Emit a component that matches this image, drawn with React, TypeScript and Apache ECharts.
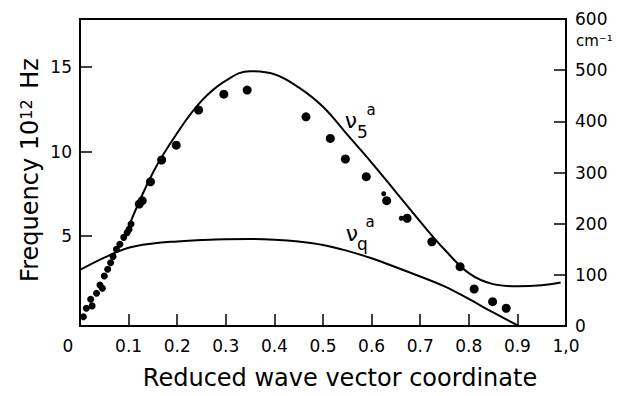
import React, { useEffect, useRef } from "react";
import * as echarts from "echarts";

const FONT = '"DejaVu Sans", "Noto Sans", sans-serif';

// Reduced wave vector coordinate ticks
const xTickValues = [0, 0.1, 0.2, 0.3, 0.4, 0.5, 0.6, 0.7, 0.8, 0.9, 1.0];
const leftTickValues = [5, 10, 15];

// Curve nu5^a (10^12 Hz)
const nu5Q = [0.1, 0.15, 0.2, 0.25, 0.3, 0.35, 0.4, 0.45, 0.5, 0.55, 0.6, 0.65, 0.7, 0.75, 0.8, 0.85, 0.9, 0.95, 0.989];
const nu5V = [5.55, 8.75, 11.1, 13.0, 14.2, 14.76, 14.58, 13.8, 12.65, 11.0, 9.35, 7.6, 5.85, 4.2, 2.8, 2.15, 2.02, 2.08, 2.24];

// Curve nuq^a (10^12 Hz)
const nuqQ = [0, 0.05, 0.1, 0.15, 0.2, 0.25, 0.3, 0.35, 0.4, 0.45, 0.5, 0.55, 0.6, 0.65, 0.7, 0.75, 0.8, 0.85, 0.903];
const nuqV = [2.99, 3.72, 4.3, 4.56, 4.68, 4.76, 4.81, 4.82, 4.78, 4.67, 4.47, 4.12, 3.68, 3.15, 2.6, 2.02, 1.27, 0.47, -0.33];

// Measured points
const dotsQ = [0.007, 0.013, 0.022, 0.025, 0.034, 0.041, 0.046, 0.05, 0.057, 0.063, 0.068, 0.075, 0.082, 0.09, 0.097, 0.101, 0.105, 0.122, 0.128, 0.145, 0.168, 0.198, 0.244, 0.296, 0.344, 0.465, 0.515, 0.546, 0.589, 0.631, 0.673, 0.724, 0.782, 0.811, 0.849, 0.877];
const dotsV = [0.22, 0.72, 1.25, 0.86, 1.61, 2.1, 1.91, 2.63, 3.03, 3.42, 3.78, 4.21, 4.51, 4.92, 5.2, 5.4, 5.71, 6.89, 7.09, 8.21, 9.5, 10.38, 12.46, 13.4, 13.64, 12.06, 10.78, 9.56, 8.51, 7.09, 6.05, 4.66, 3.18, 1.86, 1.11, 0.72];

// small marks attached to two points
const marksQ = [0.625, 0.661];
const marksV = [7.5, 6.05];

export default function App() {
  const ref = useRef<HTMLDivElement>(null);
  useEffect(() => {
    const chart = echarts.init(ref.current as HTMLDivElement, null, { renderer: "svg" });
    const black = "#000";
    chart.setOption({
      animation: false,
      backgroundColor: "#fff",
      textStyle: { fontFamily: FONT },
      grid: { left: 80, right: 53, top: 19, bottom: 70, show: true, borderColor: black, borderWidth: 2, backgroundColor: "transparent" },
      xAxis: {
        type: "value",
        min: 0,
        max: 1,
        interval: 0.1,
        axisLine: { show: true, onZero: false, lineStyle: { color: black, width: 2 } },
        axisTick: { show: true, inside: true, length: 12, lineStyle: { color: black, width: 1.5 } },
        axisLabel: {
          margin: 11,
          color: black,
          fontSize: 17,
          fontFamily: FONT,
          showMinLabel: true,
          showMaxLabel: true,
          formatter: (v: number) => {
            if (Math.abs(v) < 1e-9) return "{z|0}";
            if (Math.abs(v - 1) < 1e-9) return "1,0";
            return v.toFixed(1);
          },
          rich: { z: { fontSize: 17, fontFamily: FONT, color: black, padding: [0, 24, 0, 0] } },
        },
        splitLine: { show: false },
      },
      yAxis: [
        {
          type: "value",
          position: "left",
          min: -0.33,
          max: 17.85,
          axisLine: { show: true, onZero: false, lineStyle: { color: black, width: 2 } },
          axisTick: { show: true, inside: true, length: 12, customValues: leftTickValues, lineStyle: { color: black, width: 1.5 } },
          axisLabel: { customValues: leftTickValues, margin: 8, color: black, fontSize: 17, fontFamily: FONT },
          splitLine: { show: false },
        },
        {
          type: "value",
          position: "right",
          min: 0,
          max: 600,
          interval: 100,
          axisLine: { show: true, onZero: false, lineStyle: { color: black, width: 2 } },
          axisTick: { show: true, inside: true, length: 12, lineStyle: { color: black, width: 1.5 } },
          axisLabel: { margin: 9, color: black, fontSize: 17, fontFamily: FONT, showMinLabel: true, showMaxLabel: true },
          splitLine: { show: false },
        },
      ],
      series: [
        {
          name: "nu5",
          type: "line",
          yAxisIndex: 0,
          smooth: 0.4,
          showSymbol: false,
          lineStyle: { color: black, width: 2 },
          data: nu5Q.map((q, i) => [q, nu5V[i]]),
        },
        {
          name: "nuq",
          type: "line",
          yAxisIndex: 0,
          smooth: 0.4,
          showSymbol: false,
          lineStyle: { color: black, width: 2 },
          data: nuqQ.map((q, i) => [q, nuqV[i]]),
        },
        {
          name: "points",
          type: "scatter",
          yAxisIndex: 0,
          symbol: "circle",
          symbolSize: (val: number[]) => (val[0] < 0.11 ? 7 : 9),
          itemStyle: { color: black, opacity: 1 },
          data: dotsQ.map((q, i) => [q, dotsV[i]]),
        },
        {
          name: "marks",
          type: "scatter",
          yAxisIndex: 0,
          symbol: "circle",
          symbolSize: 5,
          itemStyle: { color: black, opacity: 1 },
          data: marksQ.map((q, i) => [q, marksV[i]]),
        },
      ],
      graphic: [
        {
          type: "text",
          x: 30,
          y: 170,
          rotation: Math.PI / 2,
          style: {
            text: "Frequency 10{s|12} Hz",
            fontSize: 24,
            fontFamily: FONT,
            fill: black,
            align: "center",
            verticalAlign: "middle",
            rich: { s: { fontSize: 16, fontFamily: FONT, fill: black, verticalAlign: "top", padding: [0, 3, 6, 0] } },
          },
        },
        {
          type: "text",
          x: 340,
          y: 378,
          style: { text: "Reduced wave vector coordinate", fontSize: 24, fontFamily: FONT, fill: black, align: "center", verticalAlign: "middle" },
        },
        {
          type: "text",
          x: 576,
          y: 41,
          style: { text: "cm⁻¹", fontSize: 15, fontFamily: FONT, fill: black, align: "left", verticalAlign: "middle" },
        },
        { type: "text", x: 351, y: 120, style: { text: "ν", fontSize: 22, fontFamily: FONT, fill: black, align: "center", verticalAlign: "middle" } },
        { type: "text", x: 362.5, y: 132, style: { text: "5", fontSize: 17, fontFamily: FONT, fill: black, align: "center", verticalAlign: "middle" } },
        { type: "text", x: 371, y: 110, style: { text: "a", fontSize: 15, fontFamily: FONT, fill: black, align: "center", verticalAlign: "middle" } },
        { type: "text", x: 352, y: 233, style: { text: "ν", fontSize: 22, fontFamily: FONT, fill: black, align: "center", verticalAlign: "middle" } },
        { type: "text", x: 362.5, y: 244, style: { text: "q", fontSize: 17, fontFamily: FONT, fill: black, align: "center", verticalAlign: "middle" } },
        { type: "text", x: 370, y: 222, style: { text: "a", fontSize: 15, fontFamily: FONT, fill: black, align: "center", verticalAlign: "middle" } },
      ],
    });
    return () => chart.dispose();
  }, []);
  return <div ref={ref} style={{ position: "absolute", left: 0, top: 0, width: 619, height: 396 }} />;
}
